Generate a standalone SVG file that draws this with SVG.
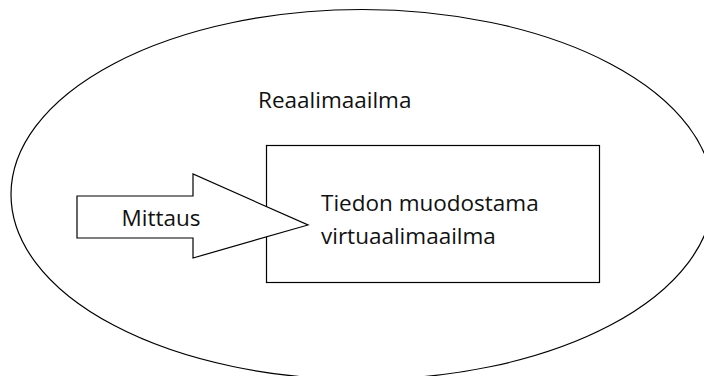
<svg xmlns="http://www.w3.org/2000/svg" width="704" height="376" viewBox="0 0 704 376">
<style>
.s{fill:#fff;stroke:#000;stroke-width:1.2}
.t{font-family:"Open Sans",Lato,"Liberation Sans",sans-serif;font-size:22.5px;fill:#111}
</style>
<rect width="704" height="376" fill="#fff"/>
<g id="reaalimaailma">
<ellipse class="s" cx="362" cy="194.5" rx="351" ry="185"/>
<text class="t" x="258" y="107.5">Reaalimaailma</text>
</g>
<g id="virtuaalimaailma">
<rect class="s" x="266.5" y="145.5" width="333" height="137"/>
<text class="t" x="321" y="211">Tiedon muodostama</text>
<text class="t" x="321" y="243.5">virtuaalimaailma</text>
</g>
<g id="connectors">
<g id="mittaus">
<polygon class="s" points="77,196 193,196 193,174 308,225 193,258 193,238 77,238"/>
<text class="t" x="121.5" y="226">Mittaus</text>
</g>
</g>
</svg>
